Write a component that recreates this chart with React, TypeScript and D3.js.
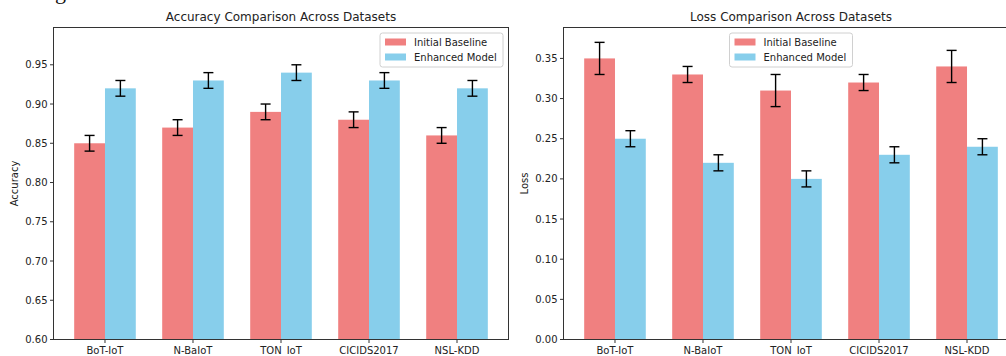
import React from 'react';
import * as d3 from 'd3';

const datasets = ['BoT-IoT', 'N-BaIoT', 'TON_IoT', 'CICIDS2017', 'NSL-KDD'];

const accBaseline = [0.85, 0.87, 0.89, 0.88, 0.86];
const accBaselineErr = [0.01, 0.01, 0.01, 0.01, 0.01];
const accEnhanced = [0.92, 0.93, 0.94, 0.93, 0.92];
const accEnhancedErr = [0.01, 0.01, 0.01, 0.01, 0.01];

const lossBaseline = [0.35, 0.33, 0.31, 0.32, 0.34];
const lossBaselineErr = [0.02, 0.01, 0.02, 0.01, 0.02];
const lossEnhanced = [0.25, 0.22, 0.2, 0.23, 0.24];
const lossEnhancedErr = [0.01, 0.01, 0.01, 0.01, 0.01];

const accTicks = [0.6, 0.65, 0.7, 0.75, 0.8, 0.85, 0.9, 0.95];
const lossTicks = [0, 0.05, 0.1, 0.15, 0.2, 0.25, 0.3, 0.35];

const seriesNames = ['Initial Baseline', 'Enhanced Model'];
const RED = '#F08080';
const BLUE = '#87CEEB';
const FONT = 'DejaVu Sans, sans-serif';
const BAR_W = 0.35;
const TICK_FS = 10;

type PanelProps = {
  left: number;
  title: string;
  ylabel: string;
  yDomain: [number, number];
  ticks: number[];
  base: number[];
  baseErr: number[];
  enh: number[];
  enhErr: number[];
  legendMode: 'right' | 'center';
  ylabelX: number;
};

const Panel = (p: PanelProps) => {
  const top = 27.5;
  const bottom = 339.5;
  const width = 455;
  const right = p.left + width;

  // matplotlib-ish x limits: bars from -0.35 to 4.35 plus 5% margin
  const x = d3.scaleLinear().domain([-0.585, 4.585]).range([p.left, right]);
  const y = d3.scaleLinear().domain(p.yDomain).range([bottom, top]);
  const pxW = x(BAR_W) - x(0);

  const bars = (vals: number[], offset: number, color: string) =>
    vals.map((v, i) => {
      const cx = x(i + offset);
      return <rect key={color + i} x={cx - pxW / 2} y={y(v)} width={pxW} height={bottom - y(v)} fill={color} />;
    });

  const errBars = (vals: number[], errs: number[], offset: number) =>
    vals.map((v, i) => {
      const cx = x(i + offset);
      const y1 = y(v + errs[i]);
      const y0 = y(v - errs[i]);
      return (
        <g key={'e' + offset + i} stroke="#000" strokeWidth={1.4}>
          <line x1={cx} x2={cx} y1={y0} y2={y1} />
          <line x1={cx - 5} x2={cx + 5} y1={y0} y2={y0} />
          <line x1={cx - 5} x2={cx + 5} y1={y1} y2={y1} />
        </g>
      );
    });

  const legW = 123;
  const legH = 34;
  const legX = p.legendMode === 'right' ? right - 5.5 - legW : (p.left + right) / 2 - legW / 2;
  const legY = top + 5.5;

  return (
    <g>
      <defs>
        <clipPath id={'clip' + p.left}>
          <rect x={p.left} y={top} width={width} height={bottom - top} />
        </clipPath>
      </defs>
      <g clipPath={`url(#clip${p.left})`}>
        {bars(p.base, -BAR_W / 2, RED)}
        {bars(p.enh, BAR_W / 2, BLUE)}
      </g>
      {errBars(p.base, p.baseErr, -BAR_W / 2)}
      {errBars(p.enh, p.enhErr, BAR_W / 2)}
      <rect x={p.left} y={top} width={width} height={bottom - top} fill="none" stroke="#333" strokeWidth={1} />
      {p.ticks.map((t) => (
        <g key={'yt' + t}>
          <line x1={p.left - 3.5} x2={p.left} y1={y(t)} y2={y(t)} stroke="#333" />
          <text x={p.left - 6} y={y(t)} dy="0.35em" textAnchor="end" fontSize={TICK_FS} fontFamily={FONT} fill="#222">
            {t.toFixed(2)}
          </text>
        </g>
      ))}
      {datasets.map((d, i) => (
        <g key={'xt' + d}>
          <line x1={x(i)} x2={x(i)} y1={bottom} y2={bottom + 3.5} stroke="#333" />
          <text x={x(i)} y={bottom + 14.5} textAnchor="middle" fontSize={TICK_FS} fontFamily={FONT} fill="#222">
            {d}
          </text>
        </g>
      ))}
      <text x={(p.left + right) / 2} y={21} textAnchor="middle" fontSize={12} fontFamily={FONT} fill="#222">
        {p.title}
      </text>
      <text
        transform={`translate(${p.ylabelX}, ${(top + bottom) / 2}) rotate(-90)`}
        textAnchor="middle"
        dy="0.35em"
        fontSize={TICK_FS}
        fontFamily={FONT}
        fill="#222"
      >
        {p.ylabel}
      </text>
      <g>
        <rect x={legX} y={legY} width={legW} height={legH} rx={2.5} fill="#fff" fillOpacity={0.8} stroke="#d0d0d0" />
        {seriesNames.map((s, i) => (
          <g key={s}>
            <rect x={legX + 5} y={legY + 5.5 + i * 15} width={21} height={7} fill={i === 0 ? RED : BLUE} />
            <text x={legX + 34} y={legY + 9 + i * 15} dy="0.35em" fontSize={TICK_FS} fontFamily={FONT} fill="#222">
              {s}
            </text>
          </g>
        ))}
      </g>
    </g>
  );
};

export default function App() {
  return (
    <div style={{ position: 'fixed', left: 0, top: 0, width: 1006, height: 356, background: '#fff' }}>
      <svg width={1006} height={356} style={{ display: 'block' }}>
        <rect width={1006} height={356} fill="#fff" />
        <text x={55} y={-1} fontSize={22} fontFamily="Liberation Serif, serif" fill="#111">
          g
        </text>
        <Panel
          left={53.5}
          title="Accuracy Comparison Across Datasets"
          ylabel="Accuracy"
          yDomain={[0.6, 0.9975]}
          ticks={accTicks}
          base={accBaseline}
          baseErr={accBaselineErr}
          enh={accEnhanced}
          enhErr={accEnhancedErr}
          legendMode="right"
          ylabelX={14}
        />
        <Panel
          left={563.5}
          title="Loss Comparison Across Datasets"
          ylabel="Loss"
          yDomain={[0, 0.3885]}
          ticks={lossTicks}
          base={lossBaseline}
          baseErr={lossBaselineErr}
          enh={lossEnhanced}
          enhErr={lossEnhancedErr}
          legendMode="center"
          ylabelX={524}
        />
      </svg>
    </div>
  );
}
